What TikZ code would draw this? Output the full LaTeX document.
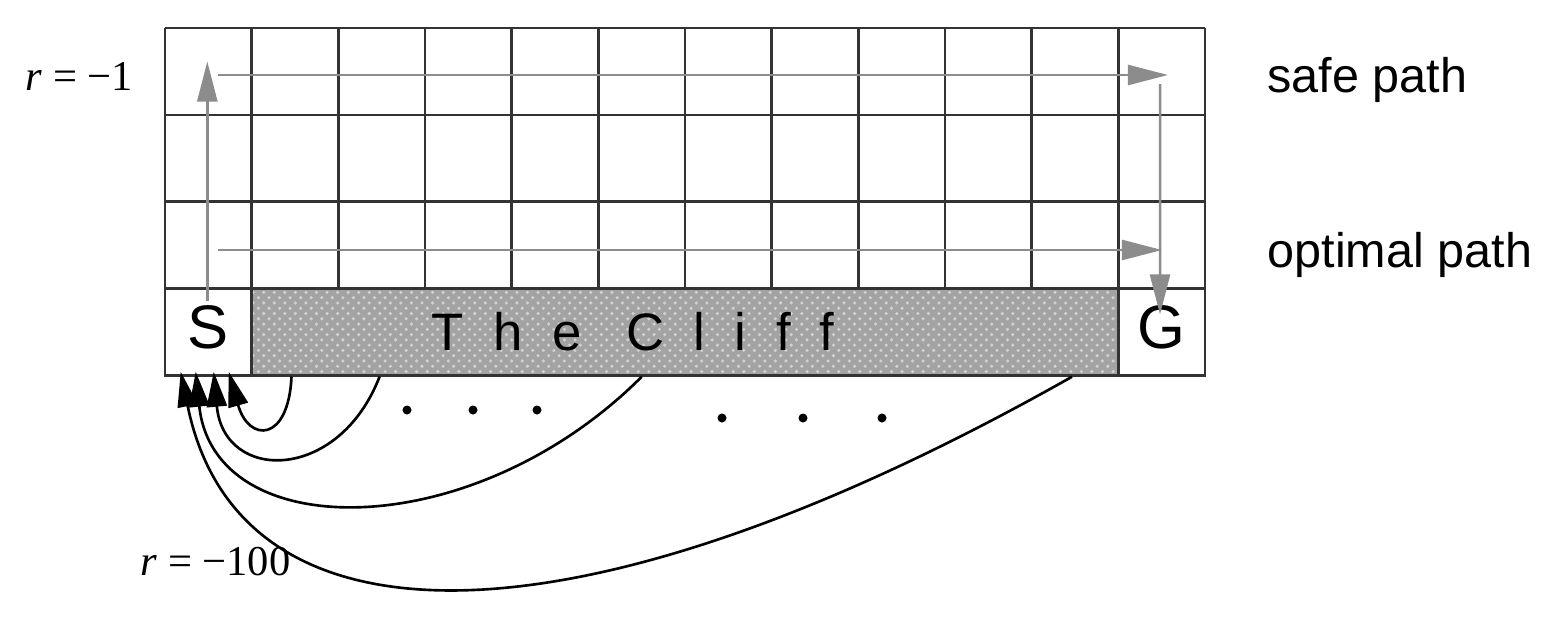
\documentclass[tikz,border=0pt]{standalone}
\usepackage{fontspec}
\setmainfont{Liberation Serif}
\newfontfamily\pathfont{Liberation Sans}
\newfontfamily\clifffont[LetterSpace=56]{Liberation Sans}
\usetikzlibrary{arrows.meta, positioning, patterns}

\begin{document}
\begin{tikzpicture}[
  x=0.01cm, y=-0.01cm,
  gridline/.style={draw=black!80, line width=0.7pt},
  cell/.style={gridline, minimum width=0.8667cm, minimum height=0.8675cm, inner sep=0pt,
               text height=0.92em, text depth=0pt,
               font=\pathfont\fontsize{17.5}{20}\selectfont},
  cliffbox/.style={gridline, preaction={fill=black!36}, pattern=crosshatch dots,
                   pattern color=black!18, minimum width=8.667cm, minimum height=0.8675cm,
                   inner sep=0pt},
  clifflabel/.style={inner sep=0pt, font=\clifffont\fontsize{15}{18}\selectfont},
  pathlabel/.style={inner sep=0pt, font=\pathfont\fontsize{13.8}{16}\selectfont},
  rlabel/.style={inner sep=0pt, font=\fontsize{12.1}{14}\selectfont},
  patharr/.style={-{Triangle[length=4mm, width=2mm]}, draw=black!45, fill=black!45, line width=0.7pt},
  fallarr/.style={-{Triangle[length=3.5mm, width=2mm]}, line width=0.75pt},
]
\useasboundingbox (0,0) rectangle (1552,630);

\foreach \c in {0,...,12}
  \draw[gridline] ({165+\c*86.667},28) -- ({165+\c*86.667},289);
\foreach \r in {0,...,3}
  \draw[gridline] (165,{28+\r*86.75}) -- (1205,{28+\r*86.75});

\node[cell] (start) at (208.3,332.1) {S};
\node[cell] (goal) at (1161.7,332.1) {G};
\node[cliffbox] (cliff) at (685,332.1) {};
\node[clifflabel, anchor=west] (clifftext) at ([xshift=1.81cm]cliff.west) {The Cliff};

\coordinate (safeL) at (218,75);
\coordinate (safeR) at (1168,75);
\coordinate (safeD) at (1160,84);
\coordinate (optL) at (218,250);
\coordinate (optR) at (1162,250);

\draw[patharr] ([xshift=-0.01cm,yshift=-0.14cm]start.north) -- ++(0,-240);
\draw[patharr] (safeL) -- (safeR);
\draw[patharr] (safeD) -- ([xshift=-0.017cm,yshift=-0.27cm]goal.north);
\draw[patharr] (optL) -- (optR);

\draw[fallarr] ([xshift=0.413cm]cliff.south west) .. controls +(-3,66) and +(20,71)
  .. ([xshift=0.65cm,yshift=0.05cm]start.south west);
\draw[fallarr] ([xshift=1.293cm]cliff.south west) .. controls +(-41,106) and +(10,111)
  .. ([xshift=0.5cm,yshift=0.05cm]start.south west);
\draw[fallarr] ([xshift=3.913cm]cliff.south west) .. controls +(-169,169) and +(18,174)
  .. ([xshift=0.32cm,yshift=0.05cm]start.south west);
\draw[fallarr] ([xshift=8.213cm]cliff.south west) .. controls +(-495,280) and +(58,285)
  .. ([xshift=0.17cm,yshift=0.05cm]start.south west);

\foreach \x in {407,473,537}
  \fill (\x,410) circle[radius=0.045cm];
\foreach \x in {722,803,882}
  \fill (\x,418) circle[radius=0.045cm];

\node[pathlabel, anchor=base west] (safe) at (1267,92) {safe path};
\node[pathlabel, anchor=base west] (optimal) at (1267,267) {optimal path};
\node[rlabel, anchor=base west] (rstep) at (25,90) {\textit{r} = −1};
\node[rlabel, anchor=base west] (rfall) at (140,575) {\textit{r} = −100};

\end{tikzpicture}
\end{document}
